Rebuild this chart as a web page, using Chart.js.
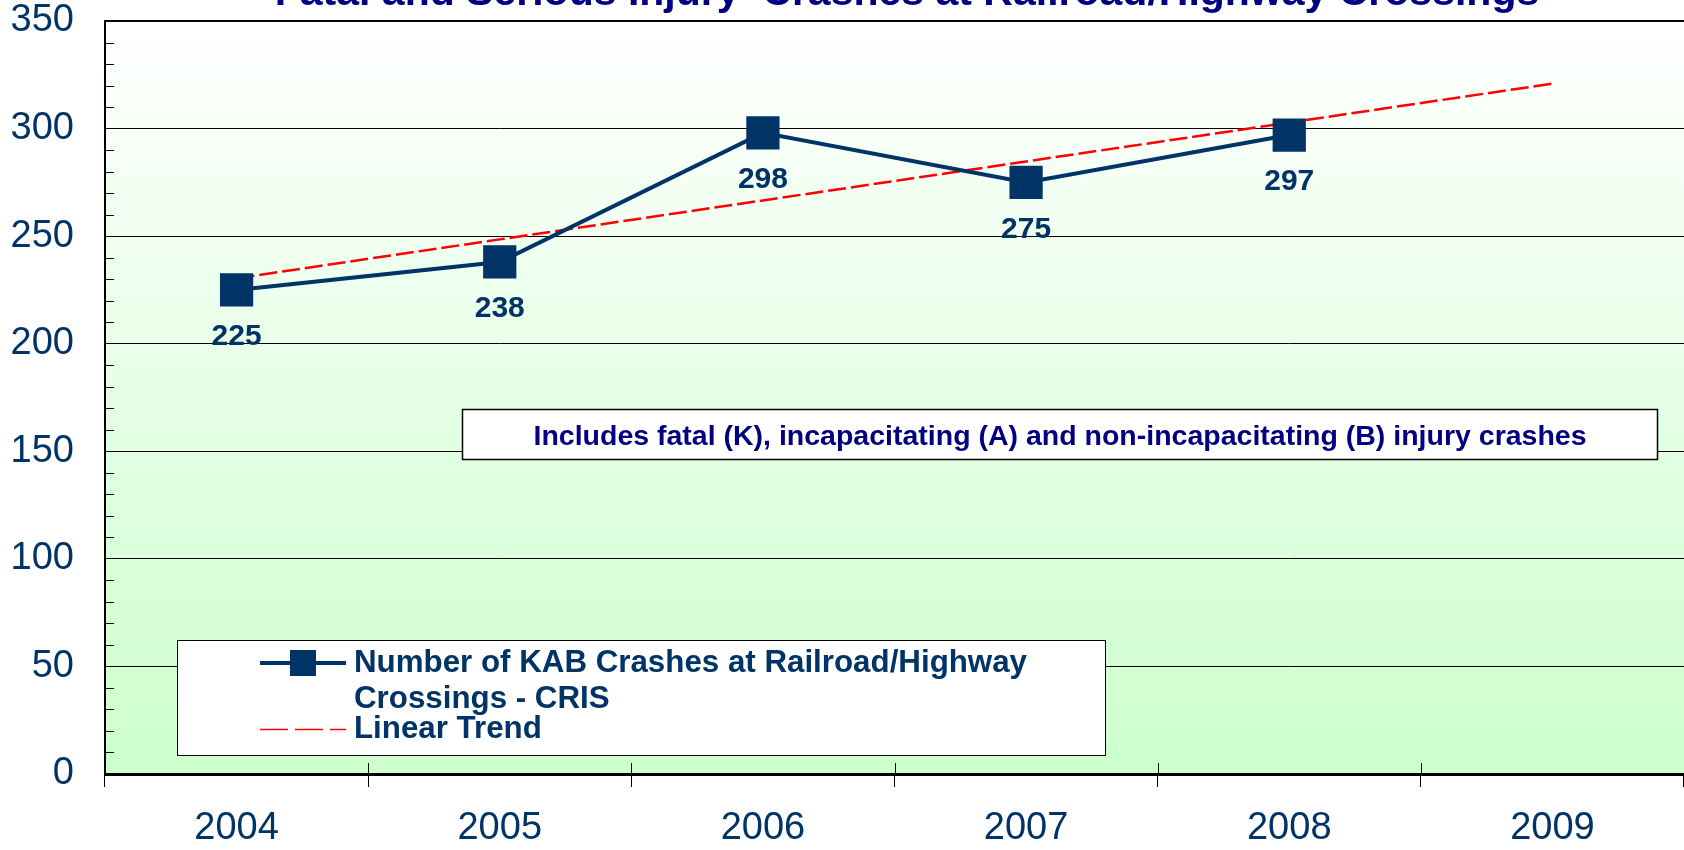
<!DOCTYPE html>
<html>
<head>
<meta charset="utf-8">
<script src="https://cdn.jsdelivr.net/npm/chart.js@4"></script>
<style>
  body { margin: 0; background: #fff; }
  #wrap { width: 1684px; height: 850px; }
</style>
</head>
<body>
<div id="wrap"><canvas id="myChart" width="1684" height="850"></canvas></div>
<script>
var years = ['2004', '2005', '2006', '2007', '2008', '2009'];
var kabCrashes = [225, 238, 298, 275, 297, null];
var linearTrend = [230.4, 248.5, 266.6, 284.7, 302.8, 320.9];
var yTicks = [0, 50, 100, 150, 200, 250, 300, 350];

var titleText = 'Fatal and Serious Injury  Crashes at Railroad/Highway Crossings';
var noteText = 'Includes fatal (K), incapacitating (A) and non-incapacitating (B) injury crashes';
var legendLines = ['Number of KAB Crashes at Railroad/Highway', 'Crossings - CRIS', 'Linear Trend'];

var navy = '#003366';
var fontName = '"Liberation Sans", Arial, sans-serif';

// green fade behind the plot
var backgroundPlugin = {
    id: 'plotBackground',
    beforeDraw: function(chart) {
        var ctx = chart.ctx;
        var a = chart.chartArea;
        var g = ctx.createLinearGradient(0, a.top, 0, a.bottom);
        g.addColorStop(0, '#ffffff');
        g.addColorStop(1, '#ccffcc');
        ctx.save();
        ctx.fillStyle = g;
        ctx.fillRect(a.left, a.top, a.right - a.left, a.bottom - a.top);
        ctx.restore();
    }
};

// minor ticks and inner halves of the x tick marks
var ticksPlugin = {
    id: 'extraTicks',
    afterDraw: function(chart) {
        var ctx = chart.ctx;
        var y = chart.scales.y;
        var x = chart.scales.x;
        var a = chart.chartArea;
        ctx.save();
        ctx.strokeStyle = '#000';
        ctx.lineWidth = 1;
        ctx.beginPath();
        for (var v = 10; v < 350; v += 10) {
            if (v % 50 === 0) continue;
            var py = Math.round(y.getPixelForValue(v)) + 0.5;
            ctx.moveTo(a.left, py);
            ctx.lineTo(a.left + 9, py);
        }
        var step = (x.right - x.left) / years.length;
        for (var i = 0; i <= years.length; i++) {
            var px = Math.round(x.left + i * step) + 0.5;
            ctx.moveTo(px, a.bottom - 11);
            ctx.lineTo(px, a.bottom);
        }
        ctx.stroke();
        ctx.restore();
    }
};

// value labels under the squares
var labelsPlugin = {
    id: 'valueLabels',
    afterDatasetsDraw: function(chart) {
        var ctx = chart.ctx;
        var meta = chart.getDatasetMeta(0);
        ctx.save();
        ctx.font = 'bold 30px ' + fontName;
        ctx.fillStyle = navy;
        ctx.textAlign = 'center';
        ctx.textBaseline = 'middle';
        meta.data.forEach(function(pt, i) {
            if (kabCrashes[i] == null) return;
            ctx.fillText(String(kabCrashes[i]), pt.x, pt.y + 47);
        });
        ctx.restore();
    }
};

// clipped title, note box and legend box
var overlayPlugin = {
    id: 'overlay',
    afterDraw: function(chart) {
        var ctx = chart.ctx;
        ctx.save();

        ctx.font = 'bold 41px ' + fontName;
        ctx.fillStyle = '#000080';
        ctx.textAlign = 'center';
        ctx.textBaseline = 'alphabetic';
        ctx.fillText(titleText, 907, 5);

        // note box
        ctx.fillStyle = '#ffffff';
        ctx.fillRect(462, 409, 1195, 50);
        ctx.strokeStyle = '#000';
        ctx.lineWidth = 1.5;
        ctx.strokeRect(462.5, 409.5, 1195, 50);
        ctx.font = 'bold 28.5px ' + fontName;
        ctx.fillStyle = '#000080';
        ctx.textBaseline = 'middle';
        ctx.fillText(noteText, 1060, 437);

        // legend box
        ctx.fillStyle = '#ffffff';
        ctx.fillRect(177, 640, 928, 115);
        ctx.lineWidth = 1;
        ctx.strokeRect(177.5, 640.5, 928, 115);

        ctx.strokeStyle = navy;
        ctx.lineWidth = 4;
        ctx.beginPath();
        ctx.moveTo(260, 663);
        ctx.lineTo(346, 663);
        ctx.stroke();
        ctx.fillStyle = navy;
        ctx.fillRect(290, 650, 26, 26);

        ctx.strokeStyle = '#ff0000';
        ctx.lineWidth = 1.5;
        ctx.setLineDash([28, 7]);
        ctx.beginPath();
        ctx.moveTo(260, 729.5);
        ctx.lineTo(346, 729.5);
        ctx.stroke();
        ctx.setLineDash([]);

        ctx.font = 'bold 31.3px ' + fontName;
        ctx.fillStyle = navy;
        ctx.textAlign = 'left';
        ctx.fillText(legendLines[0], 354, 663);
        ctx.fillText(legendLines[1], 354, 699);
        ctx.fillText(legendLines[2], 354, 729);

        ctx.restore();
    }
};

var ctx = document.getElementById('myChart').getContext('2d');
var myChart = new Chart(ctx, {
    type: 'line',
    data: {
        labels: years,
        datasets: [
            {
                label: legendLines[0] + ' ' + legendLines[1],
                data: kabCrashes,
                borderColor: navy,
                backgroundColor: navy,
                borderWidth: 4,
                pointStyle: 'rect',
                pointRadius: 23.5,
                pointBorderWidth: 0,
                pointBackgroundColor: navy,
                pointBorderColor: navy,
                tension: 0,
                fill: false
            },
            {
                label: legendLines[2],
                data: linearTrend,
                borderColor: '#ff0000',
                borderWidth: 2.5,
                borderDash: [18, 5],
                pointRadius: 0,
                tension: 0,
                fill: false
            }
        ]
    },
    options: {
        responsive: false,
        animation: false,
        devicePixelRatio: 1,
        layout: { autoPadding: false, padding: { top: 21, left: 0, right: 0, bottom: 0 } },
        plugins: {
            legend: { display: false },
            title: { display: false },
            tooltip: { enabled: false }
        },
        scales: {
            x: {
                type: 'category',
                offset: true,
                afterFit: function(scale) { scale.height = 76; },
                grid: {
                    offset: true,
                    drawOnChartArea: false,
                    tickLength: 13,
                    color: '#000',
                    lineWidth: 1
                },
                border: { color: '#000', width: 3 },
                ticks: {
                    padding: 19,
                    color: navy,
                    font: { family: fontName, size: 38 }
                }
            },
            y: {
                min: 0,
                max: 350,
                afterFit: function(scale) {
                    scale.width = 105;
                    scale.paddingTop = 0;
                    scale.paddingBottom = 0;
                },
                afterBuildTicks: function(scale) {
                    scale.ticks = yTicks.map(function(v) { return { value: v }; });
                },
                grid: {
                    drawTicks: false,
                    color: '#000',
                    lineWidth: function(c) { return c.tick && c.tick.value === 350 ? 2 : 1; }
                },
                border: { color: '#000', width: 2 },
                ticks: {
                    padding: 31,
                    color: navy,
                    font: { family: fontName, size: 38 }
                }
            }
        }
    },
    plugins: [backgroundPlugin, ticksPlugin, labelsPlugin, overlayPlugin]
});
</script>
</body>
</html>
